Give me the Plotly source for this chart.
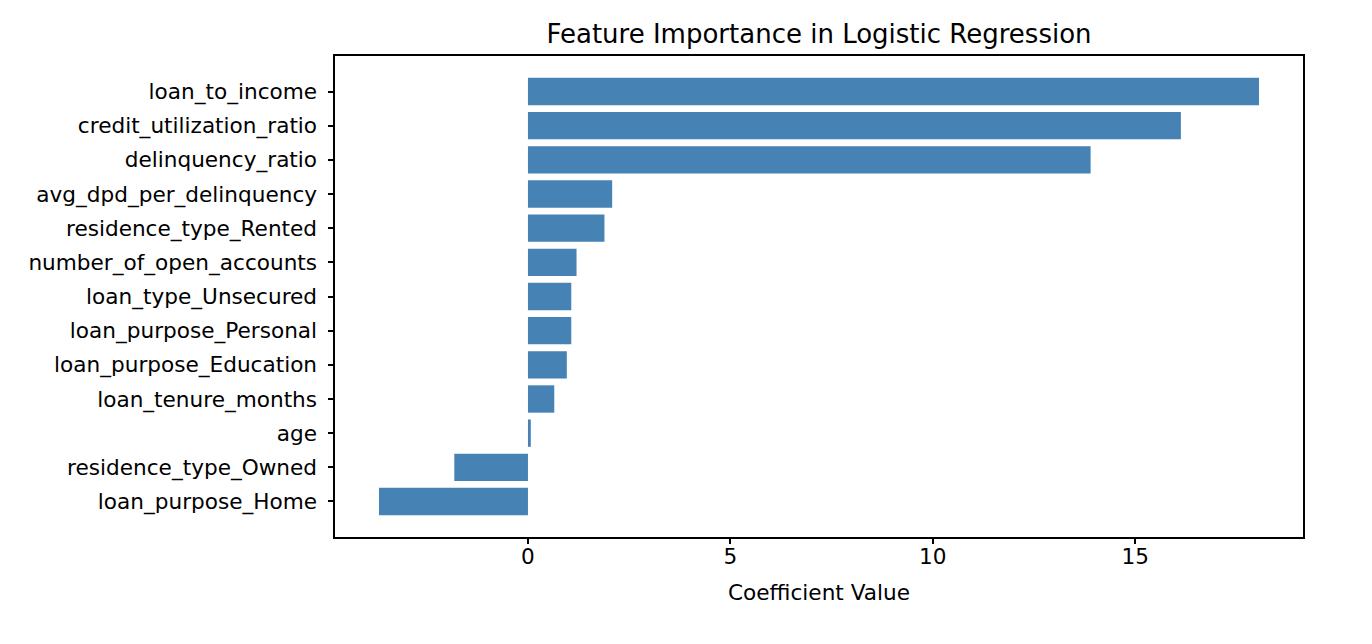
import plotly.graph_objects as go

features = [
    "loan_to_income",
    "credit_utilization_ratio",
    "delinquency_ratio",
    "avg_dpd_per_delinquency",
    "residence_type_Rented",
    "number_of_open_accounts",
    "loan_type_Unsecured",
    "loan_purpose_Personal",
    "loan_purpose_Education",
    "loan_tenure_months",
    "age",
    "residence_type_Owned",
    "loan_purpose_Home",
]
coefficients = [18.06, 16.13, 13.90, 2.08, 1.89, 1.20, 1.07, 1.07, 0.96, 0.65, 0.07, -1.82, -3.68]
x_ticks = [0, 5, 10, 15]

FONT = "DejaVu Sans"
BAR_COLOR = "#4682B4"
W, H = 1364, 636
L, R, T, B = 327, 69, 48, 107

fig = go.Figure(
    go.Bar(
        x=coefficients,
        y=features,
        orientation="h",
        marker=dict(color=BAR_COLOR, line=dict(width=0)),
        width=0.8,
    )
)

n = len(features)
pad_y = 0.05 * (n - 1 + 0.8)
lo = min(min(coefficients), 0)
hi = max(max(coefficients), 0)
pad_x = 0.05 * (hi - lo)

fig.update_layout(
    width=W,
    height=H,
    margin=dict(l=L, r=R, t=T, b=B),
    paper_bgcolor="white",
    plot_bgcolor="white",
    showlegend=False,
    font=dict(family=FONT, size=21.6, color="black"),
    title=dict(
        text="Feature Importance in Logistic Regression",
        font=dict(family=FONT, size=26, color="black"),
        x=(L + (W - L - R) / 2) / W,
        xanchor="center",
        xref="container",
        yref="container",
        y=1 - 26 / H,
        yanchor="middle",
    ),
    xaxis=dict(
        range=[lo - pad_x, hi + pad_x],
        tickvals=x_ticks,
        ticktext=[str(t) for t in x_ticks],
        showgrid=False,
        zeroline=False,
        showline=True,
        mirror=True,
        linecolor="black",
        linewidth=1.5,
        ticks="outside",
        ticklen=5,
        tickwidth=1.5,
        tickcolor="black",
        ticklabelstandoff=-6,
        tickfont=dict(family=FONT, size=21.6, color="black"),
        title=dict(text="Coefficient Value", font=dict(family=FONT, size=21.6, color="black"), standoff=17),
    ),
    yaxis=dict(
        type="category",
        categoryorder="array",
        categoryarray=features,
        range=[n - 1 + 0.4 + pad_y, -0.4 - pad_y],
        showgrid=False,
        zeroline=False,
        showline=True,
        mirror=True,
        linecolor="black",
        linewidth=1.5,
        ticks="outside",
        ticklen=5,
        tickwidth=1.5,
        tickcolor="black",
        tickfont=dict(family=FONT, size=21.6, color="black"),
        ticksuffix=" ",
    ),
)

fig.write_html("out.html")
